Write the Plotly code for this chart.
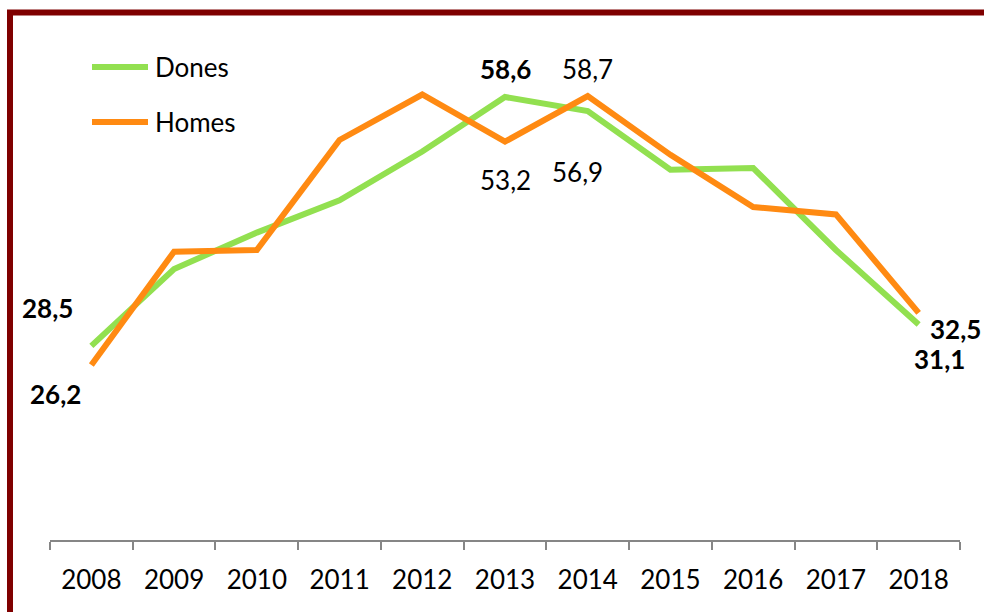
import plotly.graph_objects as go

years = ["2008", "2009", "2010", "2011", "2012", "2013", "2014", "2015", "2016", "2017", "2018"]
dones = [28.5, 37.8, 42.2, 46.1, 52.0, 58.6, 56.9, 49.8, 50.0, 40.1, 31.1]
homes = [26.2, 39.9, 40.1, 53.4, 58.9, 53.2, 58.7, 51.6, 45.3, 44.4, 32.5]

GREEN = "#92E050"
ORANGE = "#FF8A12"
FONT = "Lato"

fig = go.Figure()
fig.add_trace(go.Scatter(x=years, y=dones, mode="lines", name="Dones",
                         line=dict(color=GREEN, width=6), showlegend=False))
fig.add_trace(go.Scatter(x=years, y=homes, mode="lines", name="Homes",
                         line=dict(color=ORANGE, width=6), showlegend=False))

def fmt(v):
    return f"{v:.1f}".replace(".", ",")

# (series, index, bold, xshift, yshift)
labels = [
    (dones, 0, True, -44, 38),
    (homes, 0, True, -36, -29),
    (dones, 5, True, 0, 28),
    (homes, 5, False, 0, -38),
    (homes, 6, False, 0, 27),
    (dones, 6, False, -10, -61),
    (homes, 10, True, 37, -16),
    (dones, 10, True, 21, -35),
]
for series, i, bold, xs, ys in labels:
    t = fmt(series[i])
    fig.add_annotation(x=i, y=series[i], xref="x", yref="y",
                       text=f"<b>{t}</b>" if bold else t, showarrow=False,
                       xshift=xs, yshift=ys,
                       font=dict(family=FONT, size=26, color="#000000"))

# manual legend (page px -> paper; plot area spans page x 50..960, y 20..540)
for name, color, ypx in [("Dones", GREEN, 67), ("Homes", ORANGE, 122)]:
    yp = (540 - ypx) / 520
    fig.add_shape(type="line", xref="paper", yref="paper",
                  x0=(92 - 50) / 910, x1=(148 - 50) / 910, y0=yp, y1=yp,
                  line=dict(color=color, width=6))
    fig.add_annotation(xref="paper", yref="paper", x=(153 - 50) / 910, y=yp,
                       xanchor="left", yanchor="middle", text=name, showarrow=False,
                       font=dict(family=FONT, size=26, color="#000000"))

# frame
fig.add_shape(type="rect", xref="paper", yref="paper",
              x0=(10 - 50) / 910, x1=1.3, y0=-0.5, y1=(540 - 12.5) / 520,
              line=dict(color="#7F0000", width=6), layer="above")

fig.update_layout(
    width=984, height=612,
    margin=dict(l=50, r=24, t=20, b=72, autoexpand=False),
    paper_bgcolor="white", plot_bgcolor="white",
    font=dict(family=FONT, size=26, color="#000000"),
    xaxis=dict(type="category", range=[-0.5, 10.5], autorange=False,
               showline=True, linecolor="#868686", linewidth=1.5,
               ticks="outside", tickson="boundaries", ticklen=8, tickcolor="#868686",
               tickwidth=1.5, showgrid=False, zeroline=False, tickangle=0,
               ticklabelstandoff=16,
               tickfont=dict(family=FONT, size=26, color="#000000")),
    yaxis=dict(visible=False, range=[5.03, 67.91], autorange=False,
               showgrid=False, zeroline=False),
)

fig.write_html("out.html", config={"displayModeBar": False},
               post_script="document.body.style.margin='0';document.body.style.overflow='hidden';")
